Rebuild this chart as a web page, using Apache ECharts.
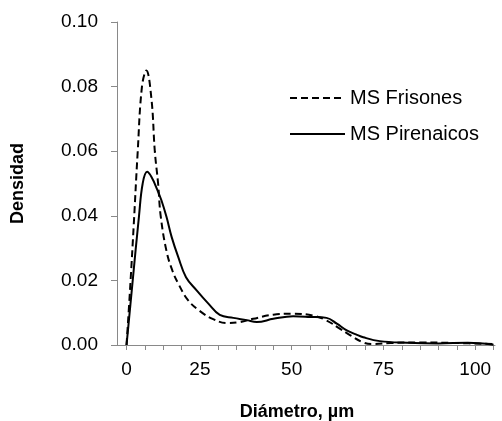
<!DOCTYPE html>
<html>
<head>
<meta charset="utf-8">
<script src="https://cdn.jsdelivr.net/npm/echarts@6/dist/echarts.min.js"></script>
<style>
html,body{margin:0;padding:0;background:#fff;}
#chart{width:502px;height:421px;}
</style>
</head>
<body>
<div id="chart"></div>
<script>
// x positions along the axis (tick every 5 units), y = density
const xFrisones = [0, 1, 2, 3, 4.2, 5.4, 6.8, 7.7, 8.6, 9.3, 10.9, 12.5, 14.1, 16.8, 20, 23.6, 27.3, 30.9, 34.5, 40, 45.4, 50.9, 54.5, 58.2, 61, 64.5, 67, 72, 80, 90, 100];
const yFrisones = [0, 0.018, 0.038, 0.059, 0.080, 0.085, 0.076, 0.060, 0.050, 0.040, 0.029, 0.023, 0.019, 0.0138, 0.0105, 0.008, 0.0068, 0.0071, 0.0081, 0.0094, 0.0097, 0.0091, 0.0076, 0.005, 0.003, 0.0008, 0.0003, 0.0006, 0.0008, 0.0006, 0.0003];
const xPirenaicos = [0, 1.6, 3.4, 4.4, 5.6, 6.8, 8.4, 9.5, 10.9, 12.3, 14.1, 16.2, 19.1, 22.3, 25.4, 29.1, 32.7, 35.5, 40, 45.4, 50, 54.5, 57.3, 60, 62.5, 64.5, 69, 76.4, 85, 93, 100];
const yPirenaicos = [0, 0.019, 0.040, 0.050, 0.0536, 0.052, 0.048, 0.0448, 0.0396, 0.0334, 0.0272, 0.021, 0.0169, 0.0128, 0.0093, 0.0084, 0.0077, 0.0071, 0.0081, 0.0089, 0.0087, 0.0084, 0.0066, 0.0045, 0.0033, 0.0024, 0.0012, 0.0007, 0.0005, 0.0007, 0.0001];
const xTickValues = [0, 5, 10, 15, 20, 25, 30, 35, 40, 45, 50, 55, 60, 65, 70, 75, 80, 85, 90, 95, 100];
const xLabelValues = [0, 20, 45, 70, 95];
const xLabelTexts = ['0', '25', '50', '75', '100'];
const seriesNames = ['MS Frisones', 'MS Pirenaicos'];

const zip = (xs, ys) => xs.map((x, i) => [x, ys[i]]);
const FONT = 'Liberation Sans';
const axisGrey = '#898989';

const chart = echarts.init(document.getElementById('chart'), null, {renderer: 'canvas'});
chart.setOption({
  animation: false,
  backgroundColor: '#fff',
  grid: {left: 117, right: 7, top: 22, bottom: 76, containLabel: false, outerBoundsMode: 'none'},
  legend: {
    orient: 'vertical', left: 289, top: 88, padding: 0,
    itemWidth: 55, itemHeight: 14, itemGap: 16, itemTextGap: 5,
    itemStyle: {opacity: 0},
    textStyle: {fontFamily: FONT, fontSize: 20, color: '#000'},
    data: seriesNames
  },
  xAxis: {
    type: 'value', min: -2.6, max: 100.4,
    name: 'Diámetro, µm', nameLocation: 'middle', nameGap: 58,
    nameTextStyle: {fontFamily: FONT, fontSize: 18, fontWeight: 'bold', color: '#000', padding: [0, 18, 0, 0]},
    axisLine: {show: true, onZero: false, lineStyle: {color: axisGrey, width: 1}},
    axisTick: {show: true, length: 5, lineStyle: {color: axisGrey}, customValues: xTickValues},
    axisLabel: {
      customValues: xLabelValues, margin: 15,
      fontFamily: FONT, fontSize: 19, color: '#000',
      formatter: v => { const i = xLabelValues.indexOf(v); return i >= 0 ? xLabelTexts[i] : ''; }
    },
    splitLine: {show: false}
  },
  yAxis: {
    type: 'value', min: 0, max: 0.1, interval: 0.02,
    name: 'Densidad', nameLocation: 'middle', nameGap: 90, nameRotate: 90,
    nameTextStyle: {fontFamily: FONT, fontSize: 18, fontWeight: 'bold', color: '#000'},
    axisLine: {show: true, onZero: false, lineStyle: {color: axisGrey, width: 1}},
    axisTick: {show: true, length: 6, lineStyle: {color: axisGrey}},
    axisLabel: {margin: 19, fontFamily: FONT, fontSize: 19, color: '#000', formatter: v => v.toFixed(2)},
    splitLine: {show: false}
  },
  series: [
    {
      name: seriesNames[0], type: 'line', data: zip(xFrisones, yFrisones),
      symbol: 'none', smooth: 0.4,
      lineStyle: {color: '#000', width: 2, type: [7, 4]},
      itemStyle: {color: '#000'}
    },
    {
      name: seriesNames[1], type: 'line', data: zip(xPirenaicos, yPirenaicos),
      symbol: 'none', smooth: 0.4,
      lineStyle: {color: '#000', width: 2, type: 'solid'},
      itemStyle: {color: '#000'}
    }
  ]
});
</script>
</body>
</html>
